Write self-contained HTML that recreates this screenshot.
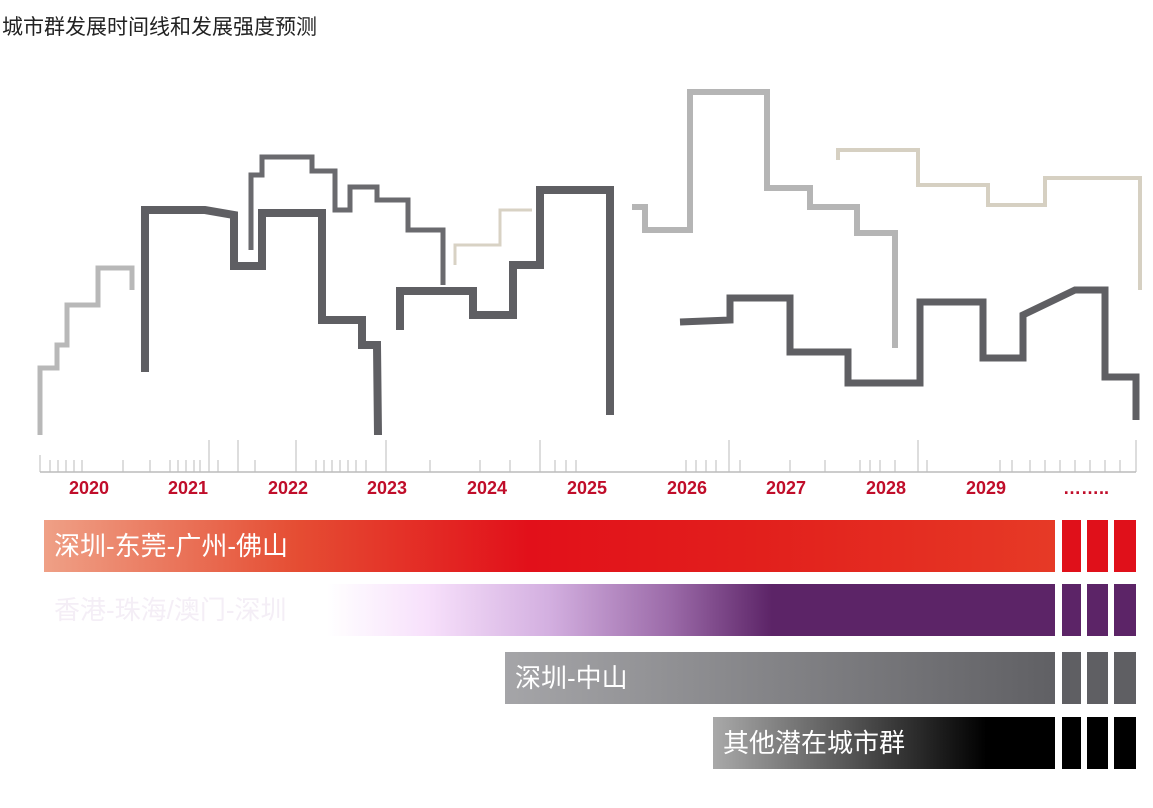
<!DOCTYPE html>
<html><head><meta charset="utf-8"><style>
body{margin:0;width:1153px;height:808px;background:#fff;position:relative;overflow:hidden;font-family:"Liberation Sans","Noto Sans CJK SC",sans-serif}
.t{position:absolute;left:2px;top:11px;font-size:21px;color:#222}
.bar{position:absolute;height:52px;color:#fff;font-size:26px;line-height:52px;padding-left:10px;box-sizing:border-box}
.yr{position:absolute;top:478px;font-size:18px;font-weight:600;color:#c00d2a;width:80px;text-align:center;margin-left:-40px}
</style></head><body>
<div class="t">城市群发展时间线和发展强度预测</div>
<svg width="1153" height="808" style="position:absolute;left:0;top:0">
<g fill="none" stroke-linejoin="miter">
<polyline stroke="#b8b8b8" stroke-width="5" points="40,435 40,368 57,368 57,345 67,345 67,305 98,305 98,268 132,268 132,290"/>
<polyline stroke="#5f5f63" stroke-width="8" points="145,372 145,210 205,210 234,215 234,266 262,266 262,213 322,213 322,320 362,320 362,345 377,345 378,435"/>
<polyline stroke="#6a6a6e" stroke-width="5" points="251,250 251,175 262,175 262,157 312,157 312,171 335,171 335,210 350,210 350,187 377,187 377,200 408,200 408,230 443,230 443,285"/>
<polyline stroke="#5f5f63" stroke-width="8" points="400,330 400,291 473,291 473,315 513,315 513,265 540,265 540,190 610,190 610,415"/>
<polyline stroke="#d8d2c4" stroke-width="3" points="455,265 455,245 500,245 500,210 532,210"/>
<polyline stroke="#b5b5b5" stroke-width="6" points="632,207 645,207 645,230 690,230 690,92 767,92 767,188 810,188 810,207 857,207 857,233 895,233 895,348"/>
<polyline stroke="#5f5f63" stroke-width="7" points="680,322 730,320 730,298 790,298 790,352 848,352 848,383 920,383 920,302 983,302 983,358 1023,358 1023,315 1075,290 1105,290 1105,377 1136,377 1136,420"/>
<polyline stroke="#d6d0c2" stroke-width="4" points="838,160 838,150 918,150 918,185 988,185 988,205 1045,205 1045,178 1140,178 1140,290"/>
</g>
<line x1="40" y1="472" x2="1136" y2="472" stroke="#ccc" stroke-width="2"/>
<g stroke="#bbb" stroke-width="1">
<path d="M40,455V472M50,460V472M58,460V472M66,460V472M74,460V472M82,460V472M123,460V472M150,460V472M170,460V472M178,460V472M186,460V472M194,460V472M200,460V472M209,440V472M218,460V472M238,440V472M255,460V472M296,440V472M316,460V472M324,460V472M332,460V472M340,460V472M348,460V472M356,460V472M366,460V472M386,440V472M430,460V472M480,460V472M510,460V472M540,440V472M555,460V472M566,460V472M576,460V472M686,460V472M696,460V472M706,460V472M716,460V472M729,440V472M740,460V472M790,460V472M825,460V472M860,460V472M870,460V472M880,460V472M895,460V472M918,440V472M927,460V472M1000,460V472M1012,460V472M1030,460V472M1045,460V472M1060,460V472M1075,460V472M1090,460V472M1105,460V472M1120,460V472M1136,440V472"/>
</g>
</svg>
<div class="yr" style="left:89px">2020</div><div class="yr" style="left:188px">2021</div><div class="yr" style="left:288px">2022</div><div class="yr" style="left:387px">2023</div><div class="yr" style="left:487px">2024</div><div class="yr" style="left:587px">2025</div><div class="yr" style="left:687px">2026</div><div class="yr" style="left:786px">2027</div><div class="yr" style="left:886px">2028</div><div class="yr" style="left:986px">2029</div><div class="yr" style="left:1086px">……..</div>

<div class="bar" style="left:44px;top:520px;width:1011px;background:linear-gradient(90deg,#efa086,#e54d33 25%,#e2101a 48%,#e21f1c 70%,#e63a26)">深圳-东莞-广州-佛山</div>
<div class="bar" style="left:44px;top:584px;width:1011px;color:#f4eef6;background:linear-gradient(90deg,#fff 28%,#f7e0fb 38%,#d3afe0 50%,#9b6aa8 62%,#5c2467 72%,#5c2467)">香港-珠海/澳门-深圳</div>
<div class="bar" style="left:505px;top:652px;width:550px;background:linear-gradient(90deg,#a5a5a8,#606064)">深圳-中山</div>
<div class="bar" style="left:713px;top:717px;width:342px;background:linear-gradient(90deg,#a9a9a9,#000 80%)">其他潜在城市群</div>
<div style="position:absolute;left:1062px;top:520px;width:19px;height:52px;background:#e0101a"></div>
<div style="position:absolute;left:1087px;top:520px;width:21px;height:52px;background:#e0101a"></div>
<div style="position:absolute;left:1114px;top:520px;width:22px;height:52px;background:#e0101a"></div>
<div style="position:absolute;left:1062px;top:584px;width:19px;height:52px;background:#5c2467"></div>
<div style="position:absolute;left:1087px;top:584px;width:21px;height:52px;background:#5c2467"></div>
<div style="position:absolute;left:1114px;top:584px;width:22px;height:52px;background:#5c2467"></div>
<div style="position:absolute;left:1062px;top:652px;width:19px;height:52px;background:#5f5f63"></div>
<div style="position:absolute;left:1087px;top:652px;width:21px;height:52px;background:#5f5f63"></div>
<div style="position:absolute;left:1114px;top:652px;width:22px;height:52px;background:#5f5f63"></div>
<div style="position:absolute;left:1062px;top:717px;width:19px;height:52px;background:#000"></div>
<div style="position:absolute;left:1087px;top:717px;width:21px;height:52px;background:#000"></div>
<div style="position:absolute;left:1114px;top:717px;width:22px;height:52px;background:#000"></div>
</body></html>
